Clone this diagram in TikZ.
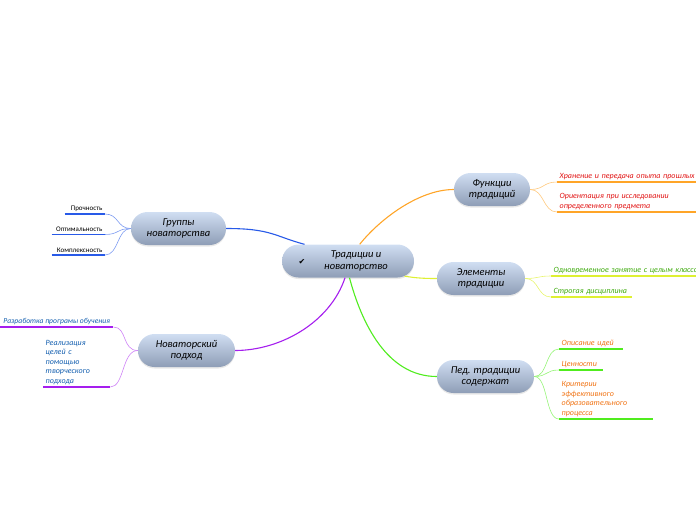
\documentclass[tikz,border=0pt]{standalone}
\usepackage{fontspec}
\setmainfont{Carlito}
\newfontfamily\symfont{DejaVu Sans}
\definecolor{topictop}{RGB}{208,222,242}
\definecolor{topicbot}{RGB}{142,157,182}
\definecolor{mmblue}{RGB}{40,90,232}
\definecolor{mmpurple}{RGB}{165,30,238}
\definecolor{mmorange}{RGB}{255,165,40}
\definecolor{mmyellow}{RGB}{222,240,50}
\definecolor{mmgreen}{RGB}{80,236,30}
\definecolor{txtblue}{RGB}{20,95,175}
\definecolor{txtred}{RGB}{225,20,20}
\definecolor{txtgreen}{RGB}{60,170,10}
\definecolor{txtorange}{RGB}{240,115,20}
\usetikzlibrary{shapes.misc,shadows}

\begin{document}
\begin{tikzpicture}[x=1pt,y=-1pt,
  topic/.style={rounded rectangle,top color=topictop,bottom color=topicbot,
    minimum height=33pt,inner sep=0pt,align=center,
    drop shadow={opacity=0.18,shadow xshift=0pt,shadow yshift=-1.5pt},
    font=\fontsize{10.5}{11.5}\selectfont\itshape},
  leaf/.style={inner xsep=2.5pt,inner ysep=2pt,align=left,
    font=\fontsize{8}{9.6}\selectfont\itshape},
  leafl/.style={inner xsep=2.5pt,inner ysep=2.5pt,align=right,
    font=\fontsize{7}{8}\selectfont},
  link/.style={line width=1.1pt},
  twig/.style={line width=0.6pt},
  under/.style={line width=1.6pt}
]
  \path[use as bounding box,clip] (0,0) rectangle (696,520);

  % central topic
  \node[topic,minimum width=132pt] (c) at (348,261) {};
  \node[font=\fontsize{10.5}{11.5}\selectfont\itshape,align=center] (ctext) at (356,261) {Традиции и\\новаторство};
  \node[font=\symfont\fontsize{8}{8}\selectfont] (check) at (302,262) {✔};

  % main topics
  \node[topic,minimum width=95pt] (grp) at (178.5,228.5) {Группы\\новаторства};
  \node[topic,minimum width=97pt] (nov) at (186.5,350.5) {Новаторский\\подход};
  \node[topic,minimum width=76pt] (fn) at (492,189.5) {Функции\\традиций};
  \node[topic,minimum width=88pt] (el) at (481,278.5) {Элементы\\традиции};
  \node[topic,minimum width=97pt] (ped) at (485.5,376.5) {Пед. традиции\\содержат};

  % links to central topic
  \draw[link,mmblue] (grp.east) .. controls +(45,0) and +(-30,-8) .. (c.159);
  \draw[link,mmpurple] (c.-100) .. controls +(-15,45) and +(45,0) .. (nov.east);
  \draw[link,mmorange] (c.55) .. controls +(20,-25) and +(-35,0) .. (fn.west);
  \draw[link,mmyellow] (c.-15) .. controls +(12,2) and +(-12,0) .. (el.west);
  \draw[link,mmgreen] (c.-85) .. controls +(12,45) and +(-50,0) .. (ped.west);

  % Группы новаторства
  \node[leafl,text width=35pt,anchor=south east] (g1) at (105,214) {Прочность};
  \node[leafl,text width=48pt,anchor=south east] (g2) at (105,234.5) {Оптимальность};
  \node[leafl,text width=48pt,anchor=south east] (g3) at (105,255) {Комплексность};
  \foreach \n in {g1,g2,g3} {
    \draw[under,mmblue] (\n.south west) -- (\n.south east);
    \draw[twig,mmblue!60] (grp.west) .. controls +(-14,0) and +(14,0) .. (\n.south east);
  }

  % Новаторский подход
  \node[leaf,txtblue,inner xsep=0.5pt,minimum width=113pt,font=\fontsize{7.6}{9.6}\selectfont\itshape,anchor=south west] (n1) at (0,327) {Разработка програмы обучения};
  \node[leaf,txtblue,text width=62pt,anchor=south west] (n2) at (43,387) {Реализация\\целей с\\помощью\\творческого\\подхода};
  \foreach \n in {n1,n2} {
    \draw[under,mmpurple] (\n.south west) -- (\n.south east);
    \draw[twig,mmpurple!55] (nov.west) .. controls +(-16,0) and +(14,0) .. (\n.south east);
  }

  % Функции традиций
  \node[leaf,txtred,text width=170pt,anchor=south west] (f1) at (557,182) {Хранение и передача опыта прошлых};
  \node[leaf,txtred,text width=170pt,anchor=south west] (f2) at (557,212) {Ориентация при исследовании\\определенного предмета};
  \foreach \n in {f1,f2} {
    \draw[under,mmorange] (\n.south west) -- (\n.south east);
    \draw[twig,mmorange!60] (fn.east) .. controls +(14,0) and +(-14,0) .. (\n.south west);
  }

  % Элементы традиции
  \node[leaf,txtgreen,text width=170pt,anchor=south west] (e1) at (551,276) {Одновременное занятие с целым классом};
  \node[leaf,txtgreen,text width=76pt,anchor=south west] (e2) at (551,297) {Строгая дисциплина};
  \foreach \n in {e1,e2} {
    \draw[under,mmyellow] (\n.south west) -- (\n.south east);
    \draw[twig,mmyellow!70] (el.east) .. controls +(14,0) and +(-14,0) .. (\n.south west);
  }

  % Пед. традиции содержат
  \node[leaf,txtorange,text width=59pt,anchor=south west] (p1) at (559,349) {Описание идей};
  \node[leaf,txtorange,text width=39pt,anchor=south west] (p2) at (559,370) {Ценности};
  \node[leaf,txtorange,text width=89pt,anchor=south west] (p3) at (559,419) {Критерии\\эффективного\\образовательного\\процесса};
  \foreach \n in {p1,p2,p3} {
    \draw[under,mmgreen] (\n.south west) -- (\n.south east);
    \draw[twig,mmgreen!60] (ped.east) .. controls +(14,0) and +(-14,0) .. (\n.south west);
  }
\end{tikzpicture}
\end{document}
